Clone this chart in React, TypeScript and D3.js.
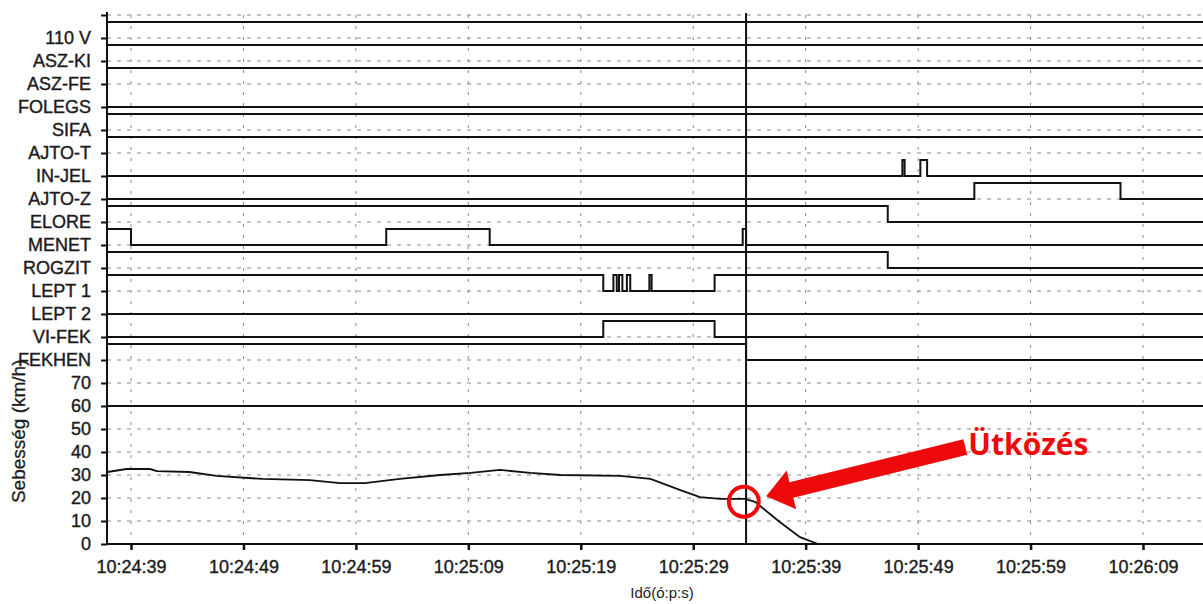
import * as d3 from 'd3';
import { useEffect, useRef } from 'react';

// digital channels, top to bottom
const channelLabels = ['110 V', 'ASZ-KI', 'ASZ-FE', 'FOLEGS', 'SIFA', 'AJTO-T', 'IN-JEL', 'AJTO-Z', 'ELORE', 'MENET', 'ROGZIT', 'LEPT 1', 'LEPT 2', 'VI-FEK', 'FEKHEN'];
const channelStart = [1, 1, 1, 0, 1, 1, 0, 0, 1, 1, 1, 1, 0, 0, 1];
// seconds after 10:24:39 where the channel toggles
const channelEdges: number[][] = [
  [], [], [], [], [], [],
  [68.6, 68.8, 70.2, 70.8],
  [75.0, 88.0],
  [67.3],
  [0, 22.7, 31.9, 54.4, 54.7],
  [67.3],
  [42.0, 42.9, 43.2, 43.4, 43.7, 44.1, 44.4, 46.1, 46.3, 51.9],
  [],
  [42.0, 51.9],
  [54.7],
];

const speedTicks = [0, 10, 20, 30, 40, 50, 60, 70];
const timeTicks = [0, 10, 20, 30, 40, 50, 60, 70, 80, 90];
const timeLabels = ['10:24:39', '10:24:49', '10:24:59', '10:25:09', '10:25:19', '10:25:29', '10:25:39', '10:25:49', '10:25:59', '10:26:09'];

const speedTime = [-2.1, -0.4, 1.7, 2.3, 5.2, 7.6, 11.7, 15.9, 18.6, 20.8, 23.9, 27.5, 30.2, 32.8, 35.5, 38.2, 43.5, 46.2, 48.8, 50.6, 52.4, 54.6, 55.5, 57.7, 59.5, 61.1];
const speedValues = [31.3, 32.6, 32.6, 31.7, 31.3, 29.6, 28.3, 27.8, 26.5, 26.5, 28.3, 30.0, 30.9, 32.2, 30.9, 30.0, 29.6, 28.3, 23.5, 20.4, 19.6, 19.6, 18.3, 9.6, 3.0, 0];

const speedLimit = 60;
const collisionTime = 54.7;
const collisionPoint = { t: 54.5, v: 18.4 };
const labelPoint = { t: 74.2, v: 42.2 };
const labelText = 'Ütközés';

export default function App() {
  const ref = useRef<SVGSVGElement>(null);

  useEffect(() => {
    const svg = d3.select(ref.current);
    svg.selectAll('*').remove();

    const width = 1203, height = 604;
    const left = 107, right = 1203, top = 15, bottom = 544;
    const font = '"Liberation Sans", Arial, sans-serif';
    const ink = '#1c1c1c';

    const x = d3.scaleLinear().domain([0, 90]).range([131, 1143]);
    const y = d3.scaleLinear().domain([0, 230]).range([bottom, top]);
    const tMin = x.invert(left), tMax = x.invert(right + 20);

    const rowOf = (i: number) => 220 - i * 10;
    const rows = d3.range(0, 240, 10);

    svg.attr('width', width).attr('height', height);
    svg.append('defs').append('clipPath').attr('id', 'plot')
      .append('rect').attr('x', left).attr('y', 0).attr('width', right - left).attr('height', bottom + 1);

    // dashed grid
    const grid = svg.append('g').attr('stroke', '#8a8a8a').attr('stroke-width', 1);
    grid.selectAll('line.h').data(rows.filter((r) => r > 0)).join('line')
      .attr('x1', left).attr('x2', right)
      .attr('y1', (d) => y(d)).attr('y2', (d) => y(d))
      .attr('stroke-dasharray', '4,6');
    grid.selectAll('line.v').data(timeTicks).join('line')
      .attr('x1', (d) => x(d)).attr('x2', (d) => x(d))
      .attr('y1', y(230)).attr('y2', y(0))
      .attr('stroke-dasharray', '3,8');

    const plot = svg.append('g').attr('clip-path', 'url(#plot)');

    // digital channels
    const step = d3.line<[number, number]>().x((d) => x(d[0])).y((d) => y(d[1])).curve(d3.curveStepAfter);
    channelLabels.forEach((_, i) => {
      let s = channelStart[i];
      const pts: [number, number][] = [[tMin - 1, rowOf(i) + s * 7]];
      channelEdges[i].forEach((t) => {
        s = 1 - s;
        pts.push([t, rowOf(i) + s * 7]);
      });
      pts.push([tMax, rowOf(i) + s * 7]);
      plot.append('path').attr('d', step(pts)).attr('fill', 'none')
        .attr('stroke', '#111').attr('stroke-width', 2);
    });

    // speed limit line
    plot.append('line').attr('x1', left).attr('x2', right)
      .attr('y1', y(speedLimit)).attr('y2', y(speedLimit))
      .attr('stroke', '#111').attr('stroke-width', 2);

    // speed trace
    const speedLine = d3.line<number>().x((_, i) => x(speedTime[i])).y((d) => y(d));
    plot.append('path').attr('d', speedLine(speedValues)).attr('fill', 'none')
      .attr('stroke', '#111').attr('stroke-width', 1.8);

    // collision marker
    plot.append('line').attr('x1', x(collisionTime)).attr('x2', x(collisionTime))
      .attr('y1', y(230) - 2).attr('y2', y(0))
      .attr('stroke', '#111').attr('stroke-width', 2);

    // axes
    const yAxis = d3.axisLeft(y)
      .tickValues([...speedTicks, ...channelLabels.map((_, i) => rowOf(i)), 230])
      .tickFormat((v) => {
        const n = +v;
        if (n <= 70) return String(n);
        const i = (220 - n) / 10;
        return channelLabels[i] ?? '';
      })
      .tickSize(6).tickSizeOuter(0).tickPadding(10);
    const ya = svg.append('g').attr('transform', `translate(${left},0)`).call(yAxis);
    ya.select('.domain').attr('stroke', '#111').attr('stroke-width', 2).attr('d', `M0,${y(230) - 3}V${y(0)}`);
    ya.selectAll('.tick line').attr('stroke', '#111').attr('stroke-width', 2);
    ya.selectAll('.tick text').attr('font-family', font).attr('font-size', 18).attr('fill', ink)
      .attr('stroke', ink).attr('stroke-width', 0.4);

    const xAxis = d3.axisBottom(x).tickValues(timeTicks)
      .tickFormat((_, i) => timeLabels[i]).tickSize(6).tickSizeOuter(0).tickPadding(10);
    const xa = svg.append('g').attr('transform', `translate(0,${y(0)})`).call(xAxis);
    xa.select('.domain').attr('stroke', '#111').attr('stroke-width', 2).attr('d', `M${left},0H${right}`);
    xa.selectAll('.tick line').attr('stroke', '#111').attr('stroke-width', 2.5);
    xa.selectAll('.tick text').attr('font-family', font).attr('font-size', 18).attr('fill', ink)
      .attr('stroke', ink).attr('stroke-width', 0.4);

    // axis titles
    svg.append('text').attr('transform', `translate(25,${y(49)}) rotate(-90)`)
      .attr('text-anchor', 'middle').attr('font-family', font).attr('font-size', 19).attr('fill', ink)
      .attr('stroke', ink).attr('stroke-width', 0.3)
      .text('Sebesség (km/h)');
    svg.append('text').attr('x', 662).attr('y', 598)
      .attr('text-anchor', 'middle').attr('font-family', font).attr('font-size', 15).attr('fill', ink)
      .text('Idő(ó:p:s)');

    // annotation
    const red = '#ee0a0a';
    const cx = x(collisionPoint.t), cy = y(collisionPoint.v);
    svg.append('circle').attr('cx', cx).attr('cy', cy).attr('r', 15)
      .attr('fill', 'none').attr('stroke', red).attr('stroke-width', 4);

    const tx = x(labelPoint.t), ty = y(labelPoint.v);
    const dx = cx - tx, dy = cy - ty, len = Math.hypot(dx, dy);
    const ux = dx / len, uy = dy / len, nx = -uy, ny = ux;
    const px = cx - ux * 23, py = cy - uy * 23;
    const headLen = 26, headW = 20, shaftW = 8;
    const bx = px - ux * headLen, by = py - uy * headLen;
    const arrow: [number, number][] = [
      [tx + nx * shaftW, ty + ny * shaftW],
      [bx + nx * shaftW, by + ny * shaftW],
      [bx + nx * headW, by + ny * headW],
      [px, py],
      [bx - nx * headW, by - ny * headW],
      [bx - nx * shaftW, by - ny * shaftW],
      [tx - nx * shaftW, ty - ny * shaftW],
    ];
    svg.append('path').attr('d', d3.line()(arrow) + 'Z').attr('fill', red);

    svg.append('text').attr('x', tx + 3).attr('y', ty + 8)
      .attr('font-family', '"Open Sans", sans-serif').attr('font-weight', 700).attr('font-size', 30)
      .attr('fill', red).text(labelText);
  }, []);

  return <svg ref={ref} style={{ position: 'absolute', left: 0, top: 0, background: '#fff' }} />;
}
